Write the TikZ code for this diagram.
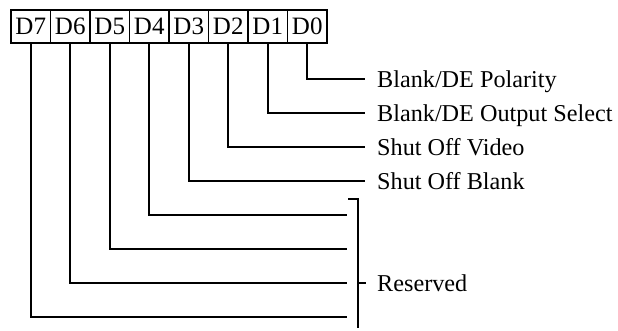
\documentclass[tikz,border=0pt]{standalone}
\usepackage{fontspec}
\setmainfont{Liberation Serif}
\begin{document}
\begin{tikzpicture}[x=1pt,y=-1pt,
  bitbox/.style={draw,line width=1.4pt,minimum width=39.5pt,minimum height=33pt,inner sep=0pt,
    font=\fontsize{25}{28}\selectfont},
  lbl/.style={anchor=west,inner sep=0pt,text height=16pt,text depth=0pt,
    font=\fontsize{24.2}{27}\selectfont},
  wire/.style={line width=1.7pt}]
\useasboundingbox (0,0) rectangle (618,330);
\foreach \i in {0,...,7}
  \node[bitbox] (d\i) at ({11+39.5*(7-\i)+19.75},26.5) {D\i};
\node[lbl] (l0) at (377,79) {Blank/DE Polarity};
\node[lbl] (l1) at (377,113) {Blank/DE Output Select};
\node[lbl] (l2) at (377,147) {Shut Off Video};
\node[lbl] (l3) at (377,181) {Shut Off Blank};
\node[lbl] (lr) at (377,283) {Reserved};
\coordinate (rt) at (348,199);
\coordinate (rb) at (358,328);
\coordinate (e4) at (347,215);
\coordinate (e5) at (347,249);
\coordinate (e6) at (347,283);
\coordinate (e7) at (347,317);
\coordinate (rm) at (358,283);
\foreach \i in {0,...,3}
  \draw[wire] (d\i.south) |- ([xshift=-12pt]l\i.west);
\foreach \i in {4,...,7}
  \draw[wire] (d\i.south) |- (e\i);
\draw[wire] (rt) -| (rb);
\draw[wire] (rm) -- ([xshift=-11pt]lr.west);
\end{tikzpicture}
\end{document}
